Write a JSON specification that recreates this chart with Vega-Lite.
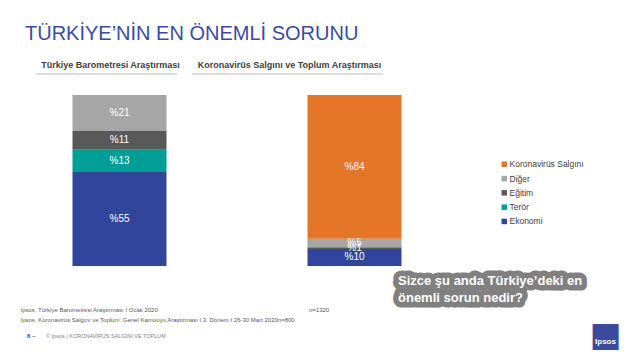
{
  "$schema": "https://vega.github.io/schema/vega-lite/v6.json",
  "width": 470,
  "height": 171,
  "autosize": "none",
  "padding": {"left": 2, "top": 95, "right": 168, "bottom": 94},
  "background": "white",
  "title": {
    "text": "TÜRKİYE’NİN EN ÖNEMLİ SORUNU",
    "anchor": "start",
    "frame": "group",
    "dx": 23,
    "offset": 1,
    "baseline": "alphabetic",
    "font": "Liberation Sans",
    "fontSize": 20,
    "fontWeight": "normal",
    "color": "#3B4BA3"
  },
  "config": {
    "view": {"stroke": null},
    "font": "Liberation Sans",
    "axisY": {"disable": true}
  },
  "datasets": {
    "sorun": [
      {"donem": "Ocak 2020", "kategori": "Ekonomi", "yuzde": 55, "sira": 1},
      {"donem": "Ocak 2020", "kategori": "Terör", "yuzde": 13, "sira": 2},
      {"donem": "Ocak 2020", "kategori": "Eğitim", "yuzde": 11, "sira": 3},
      {"donem": "Ocak 2020", "kategori": "Diğer", "yuzde": 21, "sira": 4},
      {"donem": "Mart 2020", "kategori": "Ekonomi", "yuzde": 10, "sira": 1},
      {"donem": "Mart 2020", "kategori": "Eğitim", "yuzde": 1, "sira": 3},
      {"donem": "Mart 2020", "kategori": "Diğer", "yuzde": 5, "sira": 4},
      {"donem": "Mart 2020", "kategori": "Koronavirüs Salgını", "yuzde": 84, "sira": 5}
    ]
  },
  "layer": [
    {
      "data": {"name": "sorun"},
      "transform": [
        {"stack": "yuzde", "groupby": ["donem"], "sort": [{"field": "sira", "order": "ascending"}], "as": ["y0", "y1"]},
        {"calculate": "(datum.y0 + datum.y1) / 2", "as": "orta"},
        {"calculate": "'%' + datum.yuzde", "as": "etiket"}
      ],
      "layer": [
        {
          "mark": {"type": "bar"},
          "encoding": {
            "x": {
              "field": "donem",
              "type": "nominal",
              "sort": ["Ocak 2020", "Mart 2020"],
              "scale": {"domain": ["Ocak 2020", "Mart 2020"], "paddingInner": 0.6, "paddingOuter": 0.3},
              "axis": {
                "title": null,
                "labelAngle": 0,
                "labelFont": "Liberation Sans",
                "labelFontSize": 11,
                "labelColor": "#333333",
                "labelPadding": 6,
                "tickBand": "extent",
                "tickSize": 5,
                "tickColor": "#C8C8C8",
                "domainColor": "#C8C8C8",
                "grid": false
              }
            },
            "y": {"field": "y0", "type": "quantitative", "scale": {"domain": [0, 100]}, "axis": null},
            "y2": {"field": "y1"},
            "color": {
              "field": "kategori",
              "type": "nominal",
              "scale": {
                "domain": ["Koronavirüs Salgını", "Diğer", "Eğitim", "Terör", "Ekonomi"],
                "range": ["#E67627", "#A6A6A6", "#595959", "#009E97", "#30459B"]
              },
              "legend": {
                "title": null,
                "orient": "none",
                "legendX": 498,
                "legendY": 65,
                "padding": 0,
                "symbolType": "square",
                "symbolSize": 30,
                "symbolStrokeWidth": 0,
                "labelFont": "Liberation Sans",
                "labelFontSize": 8.5,
                "labelColor": "#404040",
                "labelOffset": 1,
                "rowPadding": 5.3
              }
            }
          }
        },
        {
          "mark": {"type": "text", "color": "white", "fontSize": 10, "baseline": "middle", "font": "Liberation Sans"},
          "encoding": {
            "x": {"field": "donem", "type": "nominal"},
            "y": {"field": "orta", "type": "quantitative", "axis": null},
            "text": {"field": "etiket"}
          }
        }
      ]
    },
    {
      "data": {"values": [{"metin": "Türkiye  Barometresi Araştırması"}]},
      "mark": {"type": "text", "font": "Liberation Sans", "fontSize": 9, "fontWeight": "bold", "color": "#404040", "align": "center", "baseline": "middle", "dx": -9, "dy": -30},
      "encoding": {
        "x": {"datum": "Ocak 2020", "type": "nominal", "axis": null},
        "y": {"datum": 100, "type": "quantitative", "axis": null},
        "text": {"field": "metin"}
      }
    },
    {
      "data": {"values": [{"metin": "Koronavirüs Salgını ve Toplum Araştırması"}]},
      "mark": {"type": "text", "font": "Liberation Sans", "fontSize": 9, "fontWeight": "bold", "color": "#404040", "align": "center", "baseline": "middle", "dx": -65, "dy": -30},
      "encoding": {
        "x": {"datum": "Mart 2020", "type": "nominal", "axis": null},
        "y": {"datum": 100, "type": "quantitative", "axis": null},
        "text": {"field": "metin"}
      }
    },
    {
      "data": {"values": [{"cizgi": "Türkiye Barometresi"}]},
      "mark": {"type": "tick", "orient": "horizontal", "size": 141, "thickness": 1.5, "color": "#BFBFBF", "xOffset": -13, "yOffset": -21},
      "encoding": {
        "x": {"datum": "Ocak 2020", "type": "nominal", "axis": null},
        "y": {"datum": 100, "type": "quantitative", "axis": null}
      }
    },
    {
      "data": {"values": [{"cizgi": "Koronavirüs"}]},
      "mark": {"type": "tick", "orient": "horizontal", "size": 191, "thickness": 1.5, "color": "#BFBFBF", "xOffset": -67, "yOffset": -21},
      "encoding": {
        "x": {"datum": "Mart 2020", "type": "nominal", "axis": null},
        "y": {"datum": 100, "type": "quantitative", "axis": null}
      }
    },
    {
      "data": {"values": [{"metin": "Sizce şu  anda Türkiye’deki en\nönemli sorun  nedir?"}]},
      "mark": {"type": "text", "font": "Liberation Sans", "fontSize": 13, "fontWeight": "bold", "fill": "#808080", "stroke": "#808080", "strokeWidth": 11, "strokeJoin": "round", "align": "left", "baseline": "alphabetic", "lineBreak": "\n", "lineHeight": 17, "dx": 43.5, "dy": 19},
      "encoding": {
        "x": {"datum": "Mart 2020", "type": "nominal", "axis": null},
        "y": {"datum": 0, "type": "quantitative", "axis": null},
        "text": {"field": "metin"}
      }
    },
    {
      "data": {"values": [{"metin": "Sizce şu  anda Türkiye’deki en\nönemli sorun  nedir?"}]},
      "mark": {"type": "text", "font": "Liberation Sans", "fontSize": 13, "fontWeight": "bold", "color": "white", "align": "left", "baseline": "alphabetic", "lineBreak": "\n", "lineHeight": 17, "dx": 43.5, "dy": 19},
      "encoding": {
        "x": {"datum": "Mart 2020", "type": "nominal", "axis": null},
        "y": {"datum": 0, "type": "quantitative", "axis": null},
        "text": {"field": "metin"}
      }
    },
    {
      "data": {"values": [{"metin": "Ipsos, Türkiye Barometresi Araştırması I Ocak 2020"}]},
      "mark": {"type": "text", "font": "Liberation Sans", "fontSize": 6, "color": "#595959", "align": "left", "baseline": "middle", "dx": -99, "dy": 44},
      "encoding": {
        "x": {"datum": "Ocak 2020", "type": "nominal", "axis": null},
        "y": {"datum": 0, "type": "quantitative", "axis": null},
        "text": {"field": "metin"}
      }
    },
    {
      "data": {"values": [{"metin": "n=1320"}]},
      "mark": {"type": "text", "font": "Liberation Sans", "fontSize": 6, "color": "#595959", "align": "left", "baseline": "middle", "dx": -45.5, "dy": 44},
      "encoding": {
        "x": {"datum": "Mart 2020", "type": "nominal", "axis": null},
        "y": {"datum": 0, "type": "quantitative", "axis": null},
        "text": {"field": "metin"}
      }
    },
    {
      "data": {"values": [{"metin": "Ipsos, Koronavirüs Salgını ve Toplum: Genel Kamuoyu Araştırması I 3. Dönem I 26-30 Mart 2020n=800"}]},
      "mark": {"type": "text", "font": "Liberation Sans", "fontSize": 6, "color": "#595959", "align": "left", "baseline": "middle", "dx": -99, "dy": 53.5},
      "encoding": {
        "x": {"datum": "Ocak 2020", "type": "nominal", "axis": null},
        "y": {"datum": 0, "type": "quantitative", "axis": null},
        "text": {"field": "metin"}
      }
    },
    {
      "data": {"values": [{"metin": "6 –"}]},
      "mark": {"type": "text", "font": "Liberation Sans", "fontSize": 6, "fontWeight": "bold", "color": "#30459B", "align": "left", "baseline": "middle", "dx": -92.5, "dy": 70},
      "encoding": {
        "x": {"datum": "Ocak 2020", "type": "nominal", "axis": null},
        "y": {"datum": 0, "type": "quantitative", "axis": null},
        "text": {"field": "metin"}
      }
    },
    {
      "data": {"values": [{"metin": "© Ipsos | KORONAVİRÜS SALGINI VE TOPLUM"}]},
      "mark": {"type": "text", "font": "Liberation Sans", "fontSize": 5.5, "color": "#7F7F7F", "align": "left", "baseline": "middle", "dx": -73.5, "dy": 70},
      "encoding": {
        "x": {"datum": "Ocak 2020", "type": "nominal", "axis": null},
        "y": {"datum": 0, "type": "quantitative", "axis": null},
        "text": {"field": "metin"}
      }
    },
    {
      "data": {"values": [{"metin": "■"}]},
      "mark": {"type": "text", "font": "DejaVu Sans", "fontSize": 34, "color": "#3C4A9C", "align": "center", "baseline": "middle", "dx": 251, "dy": 70},
      "encoding": {
        "x": {"datum": "Mart 2020", "type": "nominal", "axis": null},
        "y": {"datum": 0, "type": "quantitative", "axis": null},
        "text": {"field": "metin"}
      }
    },
    {
      "data": {"values": [{"metin": "Ipsos"}]},
      "mark": {"type": "text", "font": "Liberation Sans", "fontSize": 8, "fontWeight": "bold", "color": "white", "align": "center", "baseline": "middle", "dx": 251, "dy": 76},
      "encoding": {
        "x": {"datum": "Mart 2020", "type": "nominal", "axis": null},
        "y": {"datum": 0, "type": "quantitative", "axis": null},
        "text": {"field": "metin"}
      }
    }
  ]
}
